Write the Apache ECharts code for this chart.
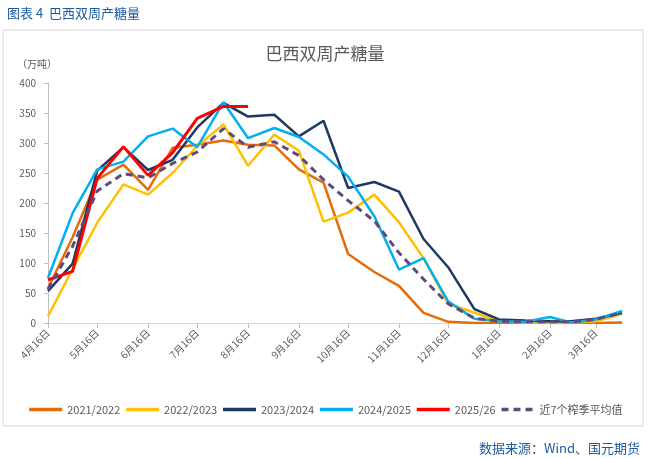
<!DOCTYPE html>
<html>
<head>
<meta charset="utf-8">
<script src="https://cdn.jsdelivr.net/npm/echarts@6/dist/echarts.min.js"></script>
<style>
  body { margin: 0; background: #fff; }
  #main { width: 650px; height: 458px; }
</style>
</head>
<body>
<div id="main"></div>
<script>
// 日期（榨季从4月16日开始，半月一个点）
const dates = [
  "2024-04-16", "2024-05-01", "2024-05-16", "2024-06-01", "2024-06-16", "2024-07-01",
  "2024-07-16", "2024-08-01", "2024-08-16", "2024-09-01", "2024-09-16", "2024-10-01",
  "2024-10-16", "2024-11-01", "2024-11-16", "2024-12-01", "2024-12-16", "2025-01-01",
  "2025-01-16", "2025-02-01", "2025-02-16", "2025-03-01", "2025-03-16", "2025-04-01"
];
// 横轴刻度
const tickDates = [
  "2024-04-16", "2024-05-16", "2024-06-16", "2024-07-16", "2024-08-16", "2024-09-16",
  "2024-10-16", "2024-11-16", "2024-12-16", "2025-01-16", "2025-02-16", "2025-03-16"
];

const s2122 = [58, 143, 239, 264, 222, 292, 297, 304, 297, 296, 256, 234, 115, 85, 62, 17, 2, 0, 0, 0, 0, 0, 0, 1];
const s2223 = [11, 90, 167, 231, 214, 250, 295, 331, 262, 314, 287, 169, 184, 214, 168, 108, 32, 17, 3, 1, 1, 1, 3, 15];
const s2324 = [53, 99, 254, 293, 255, 272, 326, 367, 344, 347, 311, 337, 225, 235, 219, 140, 93, 23, 6, 4, 3, 3, 7, 17];
const s2425 = [75, 183, 256, 269, 311, 324, 293, 368, 308, 325, 310, 281, 244, 178, 89, 108, 36, 7, 3, 2, 10, 1, 6, 20];
const s2526 = [72, 86, 241, 294, 246, 284, 341, 361, 361];
const avg7 = [56, 128, 220, 249, 242, 266, 285, 324, 293, 302, 279, 239, 204, 170, 117, 73, 32, 8, 3, 2, 2, 2, 6, 17];

const names = ["2021/2022", "2022/2023", "2023/2024", "2024/2025", "2025/26", "近7个榨季平均值"];
const colors = ["#E46C0A", "#FFC000", "#1F3864", "#00B0F0", "#FF0000", "#604A7B"];

const DAY = 86400000;
function toUTC(s) {
  const p = s.split("-");
  return Date.UTC(+p[0], +p[1] - 1, +p[2]);
}
const base = toUTC(dates[0]);
// 距榨季起点的天数，横轴按实际日期间隔排列
function dayOf(s) {
  return Math.round((toUTC(s) - base) / DAY);
}
function pairs(arr) {
  return arr.map((v, i) => [dayOf(dates[i]), v]);
}

const font = "'Noto Sans CJK SC', sans-serif";
const tickVals = tickDates.map(dayOf);

const chart = echarts.init(document.getElementById("main"));

const seriesData = [s2122, s2223, s2324, s2425, s2526, avg7];
const series = seriesData.map((d, i) => ({
  name: names[i],
  type: "line",
  data: pairs(d),
  symbol: "none",
  lineStyle: {
    color: colors[i],
    width: i >= 4 ? 3 : 2.5,
    type: i === 5 ? [7, 5] : "solid",
    cap: "butt"
  },
  itemStyle: { color: colors[i] }
}));

const option = {
  animation: false,
  textStyle: { fontFamily: font },
  graphic: [
    {
      type: "rect",
      shape: { x: 3, y: 30, width: 640, height: 396 },
      style: { fill: "none", stroke: "#D9D9D9", lineWidth: 1 },
      silent: true
    }
  ],
  title: [
    {
      text: "图表 4  巴西双周产糖量",
      left: 2, top: 2,
      textStyle: { fontSize: 13, color: "#1F5AA0", fontWeight: "normal", fontFamily: font }
    },
    {
      text: "巴西双周产糖量",
      left: "center", top: 40,
      textStyle: { fontSize: 17, color: "#595959", fontWeight: "normal", fontFamily: font }
    },
    {
      text: "（万吨）",
      left: 12, top: 54,
      textStyle: { fontSize: 10, color: "#595959", fontWeight: "normal", fontFamily: font }
    },
    {
      text: "数据来源：Wind、国元期货",
      right: 5, top: 437,
      textStyle: { fontSize: 13, color: "#1F5AA0", fontWeight: "normal", fontFamily: font }
    }
  ],
  legend: {
    data: names,
    left: "center",
    top: 399,
    itemWidth: 33,
    itemHeight: 4,
    itemGap: 4,
    itemStyle: { opacity: 0 },
    lineStyle: { width: 3.5 },
    textStyle: { fontSize: 11, color: "#595959", fontFamily: font }
  },
  grid: { left: 48, right: 28, top: 83, bottom: 135 },
  xAxis: {
    type: "value",
    min: 0,
    max: dayOf(dates[dates.length - 1]),
    axisLine: { lineStyle: { color: "#D9D9D9" } },
    axisTick: { show: true, length: 5, customValues: tickVals, lineStyle: { color: "#BFBFBF" } },
    splitLine: { show: false },
    axisLabel: {
      customValues: tickVals,
      rotate: 45,
      margin: 8,
      fontSize: 10,
      color: "#595959",
      fontFamily: font,
      formatter: function (v) {
        const d = new Date(base + v * DAY);
        return (d.getUTCMonth() + 1) + "月" + d.getUTCDate() + "日";
      }
    }
  },
  yAxis: {
    type: "value",
    min: 0, max: 400, interval: 50,
    axisLine: { show: true, lineStyle: { color: "#BFBFBF" } },
    axisTick: { show: true, length: 4, lineStyle: { color: "#BFBFBF" } },
    splitLine: { show: false },
    axisLabel: { fontSize: 10, color: "#595959", margin: 12, fontFamily: font }
  },
  series: series
};

chart.setOption(option);
</script>
</body>
</html>
